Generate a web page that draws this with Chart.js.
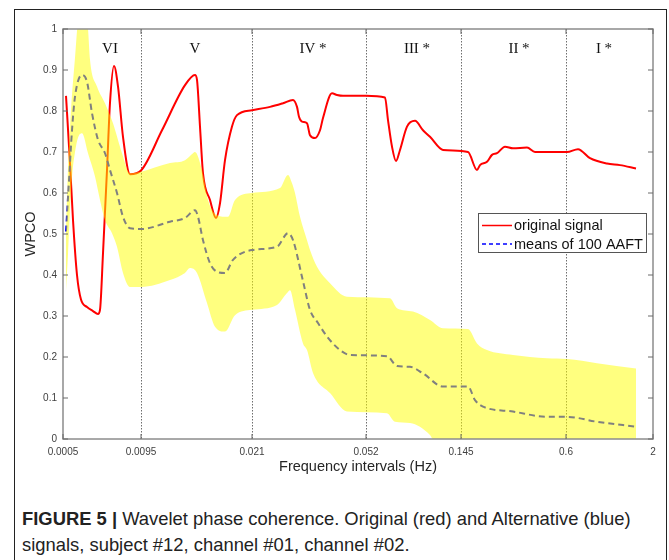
<!DOCTYPE html>
<html>
<head>
<meta charset="utf-8">
<script src="https://cdn.jsdelivr.net/npm/chart.js@4.4.1/dist/chart.umd.min.js"></script>
<style>
    body { margin: 0; background: #fff; width: 669px; height: 560px; overflow: hidden; position: relative; font-family: "Liberation Sans", Arial, sans-serif; }
    #frame { position: absolute; left: 14px; top: 9px; width: 653px; height: 600px; border: 1.5px solid #222; border-bottom: none; box-sizing: border-box; }
    #chartBox { position: absolute; left: 0; top: 0; width: 669px; height: 480px; }
    #caption { position: absolute; left: 22px; top: 506px; width: 645px; font-size: 18.4px; line-height: 26px; color: #222; font-family: "Liberation Sans", Arial, sans-serif; white-space: nowrap; }
</style>
</head>
<body>
<div id="frame"></div>
<div id="chartBox"><canvas id="wpcoChart" width="669" height="480"></canvas></div>
<div id="caption"><b>FIGURE 5 |</b> Wavelet phase coherence. Original (red) and Alternative (blue)<br>signals, subject #12, channel #01, channel #02.</div>

<script>
// x values are positions on the frequency axis (its intervals are not evenly spaced)
const xTickPos = [0, 78, 189, 303, 398, 503, 590];
const xTickLabels = ['0.0005', '0.0095', '0.021', '0.052', '0.145', '0.6', '2'];

// band names written at the top of each interval
const zoneLabels = ['VI', 'V', 'IV *', 'III *', 'II *', 'I *'];
const zoneX = [47, 132, 250, 354, 456, 541];
const zoneY = 0.95;

// original signal (red)
const originalX = [3, 7, 10, 14, 18, 24, 30, 35, 37, 40, 44, 47, 51, 55, 60, 67, 78, 99, 122, 132,
    134, 137, 140, 147, 153, 157, 162, 169, 174, 189, 207, 220, 230, 234, 236, 239, 244, 247, 252, 257,
    260, 269, 274, 280, 303, 322, 325, 329, 333, 337, 344, 352, 360, 367, 380, 405, 414, 417, 424, 429,
    434, 442, 450, 464, 472, 504, 515, 527, 544, 557, 573];
const originalY = [0.837, 0.673, 0.534, 0.40, 0.34, 0.322, 0.312, 0.305, 0.315, 0.453, 0.656, 0.82, 0.91, 0.86, 0.737, 0.646, 0.655, 0.753, 0.863, 0.888,
    0.876, 0.762, 0.648, 0.583, 0.539, 0.575, 0.68, 0.762, 0.79, 0.802, 0.81, 0.819, 0.827, 0.81, 0.786, 0.774, 0.77, 0.741, 0.734, 0.753,
    0.783, 0.843, 0.839, 0.837, 0.837, 0.833, 0.778, 0.713, 0.678, 0.705, 0.762, 0.776, 0.753, 0.737, 0.705, 0.70, 0.656, 0.668, 0.676, 0.693,
    0.697, 0.713, 0.709, 0.711, 0.70, 0.70, 0.707, 0.685, 0.672, 0.668, 0.66];

// means of 100 AAFT surrogates (blue dashed)
const meanX = [3, 6, 9, 12, 19, 24, 29, 35, 42, 47, 54, 60, 67, 78, 107, 122, 132, 135, 140, 147,
    154, 162, 170, 189, 214, 225, 230, 240, 247, 255, 264, 277, 287, 324, 334, 347, 360, 380, 405, 412,
    420, 450, 484, 504, 534, 573];
const meanY = [0.506, 0.63, 0.753, 0.835, 0.888, 0.871, 0.795, 0.73, 0.697, 0.656, 0.60, 0.542, 0.514, 0.512, 0.53, 0.539, 0.558, 0.542, 0.485, 0.429,
    0.408, 0.405, 0.437, 0.461, 0.469, 0.502, 0.485, 0.385, 0.315, 0.283, 0.25, 0.217, 0.205, 0.202, 0.178, 0.176, 0.16, 0.128, 0.128, 0.095,
    0.079, 0.067, 0.054, 0.054, 0.042, 0.03];

// surrogate spread, upper and lower edge (yellow band)
const upperX = [3, 5, 7, 9, 12, 15, 20, 25, 27, 34, 42, 50, 59, 67, 78, 107, 122, 130, 132, 139,
    145, 154, 165, 172, 189, 217, 225, 229, 232, 237, 244, 247, 254, 267, 284, 327, 334, 350, 367, 380,
    405, 414, 424, 450, 484, 504, 534, 573];
const upperY = [0.50, 0.66, 0.76, 0.84, 0.93, 1.02, 1.05, 1.0, 0.925, 0.86, 0.819, 0.77, 0.697, 0.648, 0.652, 0.673, 0.68, 0.697, 0.70, 0.656,
    0.583, 0.546, 0.542, 0.583, 0.60, 0.612, 0.644, 0.624, 0.60, 0.542, 0.485, 0.461, 0.42, 0.38, 0.347, 0.343, 0.319, 0.311, 0.29, 0.27,
    0.268, 0.233, 0.217, 0.205, 0.197, 0.195, 0.185, 0.172];
const lowerX = [3, 5, 7, 9, 12, 15, 19, 25, 32, 37, 42, 49, 54, 60, 67, 78, 107, 122, 127, 134,
    144, 152, 162, 172, 189, 214, 224, 227, 232, 240, 244, 250, 267, 284, 324, 332, 347, 367, 370, 573];
const lowerY = [0.363, 0.45, 0.56, 0.64, 0.70, 0.735, 0.746, 0.697, 0.64, 0.583, 0.534, 0.502, 0.469, 0.405, 0.371, 0.371, 0.388, 0.405, 0.417, 0.405,
    0.332, 0.274, 0.262, 0.302, 0.315, 0.327, 0.356, 0.363, 0.315, 0.233, 0.217, 0.161, 0.112, 0.067, 0.063, 0.042, 0.039, 0.01, 0, 0];

function toPoints(xs, ys) {
    return xs.map((x, i) => ({ x: x, y: ys[i] }));
}

const tickFont = { family: '"Liberation Sans", Arial, sans-serif', size: 10 };
const titleFont = { family: '"Liberation Sans", Arial, sans-serif', size: 14.5 };

// plot box, inward tick marks, interval names and the legend box
const plotDecor = {
    id: 'plotDecor',
    afterDraw(chart) {
        const ctx = chart.ctx;
        const a = chart.chartArea;
        const xs = chart.scales.x;
        const ys = chart.scales.y;
        ctx.save();

        ctx.strokeStyle = '#8c8c8c';
        ctx.lineWidth = 1.5;
        ctx.strokeRect(a.left, a.top, a.right - a.left, a.bottom - a.top);

        ctx.lineWidth = 1;
        ctx.strokeStyle = '#6a6a6a';
        ctx.beginPath();
        ys.ticks.forEach(t => {
            const py = ys.getPixelForValue(t.value);
            ctx.moveTo(a.left, py); ctx.lineTo(a.left + 5, py);
            ctx.moveTo(a.right, py); ctx.lineTo(a.right - 5, py);
        });
        xs.ticks.forEach(t => {
            const px = xs.getPixelForValue(t.value);
            ctx.moveTo(px, a.bottom); ctx.lineTo(px, a.bottom - 5);
            ctx.moveTo(px, a.top); ctx.lineTo(px, a.top + 5);
        });
        ctx.stroke();

        // interval names
        ctx.font = '15px "Liberation Serif", "Times New Roman", serif';
        ctx.fillStyle = '#111';
        ctx.textAlign = 'center';
        ctx.textBaseline = 'middle';
        zoneLabels.forEach((lab, i) => {
            ctx.fillText(lab, xs.getPixelForValue(zoneX[i]), ys.getPixelForValue(zoneY));
        });

        // legend box inside the plot
        const items = chart.data.datasets.filter(ds => ds.inLegend);
        const lw = 168, lh = 39;
        const lx = a.right - 7 - lw;
        const ly = a.top + 184;
        ctx.fillStyle = '#fff';
        ctx.fillRect(lx, ly, lw, lh);
        ctx.strokeStyle = '#555';
        ctx.lineWidth = 1;
        ctx.strokeRect(lx + 0.5, ly + 0.5, lw, lh);
        ctx.font = '14.5px "Liberation Sans", Arial, sans-serif';
        ctx.textAlign = 'left';
        items.forEach((ds, i) => {
            const rowY = ly + 12.5 + i * 18.6;
            ctx.strokeStyle = ds.borderColor;
            ctx.lineWidth = 1.5;
            ctx.setLineDash(ds.legendDash || []);
            ctx.beginPath();
            ctx.moveTo(lx + 4, rowY);
            ctx.lineTo(lx + 34, rowY);
            ctx.stroke();
            ctx.setLineDash([]);
            ctx.fillStyle = '#111';
            ctx.fillText(ds.label, lx + 36, rowY + 0.5);
        });

        ctx.restore();
    }
};

const ctx = document.getElementById('wpcoChart').getContext('2d');
const wpcoChart = new Chart(ctx, {
    type: 'line',
    data: {
        datasets: [
            {
                label: 'upper',
                data: toPoints(upperX, upperY),
                borderWidth: 0,
                borderColor: 'rgba(0,0,0,0)',
                backgroundColor: 'rgba(255, 255, 0, 0.5)',
                fill: '+1',
                pointRadius: 0,
                cubicInterpolationMode: 'monotone',
                order: 0
            },
            {
                label: 'lower',
                data: toPoints(lowerX, lowerY),
                borderWidth: 0,
                borderColor: 'rgba(0,0,0,0)',
                fill: false,
                pointRadius: 0,
                cubicInterpolationMode: 'monotone',
                order: 0
            },
            {
                label: 'original signal',
                inLegend: true,
                data: toPoints(originalX, originalY),
                borderColor: '#ff0000',
                borderWidth: 2,
                fill: false,
                pointRadius: 0,
                cubicInterpolationMode: 'monotone',
                order: 2
            },
            {
                label: 'means of 100 AAFT',
                inLegend: true,
                legendDash: [4, 3],
                data: toPoints(meanX, meanY),
                borderColor: '#0000ff',
                borderWidth: 2,
                borderDash: [6, 4],
                fill: false,
                pointRadius: 0,
                cubicInterpolationMode: 'monotone',
                order: 1
            }
        ]
    },
    options: {
        responsive: false,
        animation: false,
        layout: { padding: { top: 29, right: 16, bottom: 0, left: 0 } },
        plugins: {
            legend: { display: false },
            tooltip: { enabled: false }
        },
        scales: {
            x: {
                type: 'linear',
                min: 0,
                max: 590,
                afterBuildTicks: scale => {
                    scale.ticks = xTickPos.map(v => ({ value: v }));
                },
                afterFit: scale => { scale.height = 41; },
                ticks: {
                    autoSkip: false,
                    maxRotation: 0,
                    padding: 7,
                    color: '#404040',
                    font: tickFont,
                    callback: (value, index) => xTickLabels[index]
                },
                grid: {
                    drawTicks: false,
                    lineWidth: 1,
                    color: c => (c.index === 0 || c.index === xTickPos.length - 1) ? 'rgba(0,0,0,0)' : '#6e6e6e'
                },
                border: { display: false, dash: [1.5, 1.5] },
                title: {
                    display: true,
                    text: 'Frequency intervals (Hz)',
                    color: '#262626',
                    font: titleFont,
                    padding: { top: 0, bottom: 4.3 }
                }
            },
            y: {
                min: 0,
                max: 1,
                afterFit: scale => { scale.width = 63; },
                ticks: {
                    stepSize: 0.1,
                    padding: 6,
                    color: '#404040',
                    font: tickFont,
                    callback: value => String(Number(value.toFixed(1)))
                },
                grid: { display: false, drawTicks: false },
                border: { display: false },
                title: {
                    display: true,
                    text: 'WPCO',
                    color: '#262626',
                    font: titleFont,
                    padding: { top: 22.7, bottom: 0 }
                }
            }
        }
    },
    plugins: [plotDecor]
});
</script>
</body>
</html>
